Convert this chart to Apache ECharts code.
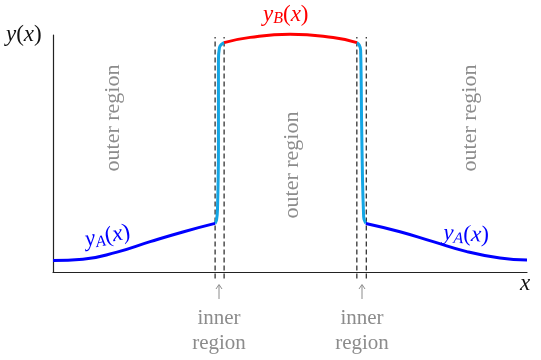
<!DOCTYPE html>
<html>
<head>
<meta charset="utf-8">
<script src="https://cdn.jsdelivr.net/npm/echarts@6/dist/echarts.min.js"></script>
<style>
html, body { margin: 0; padding: 0; background: #fff; }
#chart { width: 541px; height: 360px; }
</style>
</head>
<body>
<div id="chart"></div>
<script>
// outer solution y_A (left and right of the boundary layers)
var outerLeft = [[0, 0.49], [0.63, 0.54], [1.35, 0.84], [2.05, 1.28], [2.74, 1.69], [3.42, 2.05]];
var outerRight = [[6.60, 2.05], [7.32, 1.70], [8.02, 1.28], [8.73, 0.86], [9.43, 0.59], [10.0, 0.51]];
// outer solution y_B (middle)
var outerMiddle = [[3.61, 9.68], [4.16, 9.90], [5.0, 10.03], [5.91, 9.89], [6.41, 9.68]];
// inner (boundary layer) solutions
var innerLeft = [[3.42, 2.05], [3.45, 2.19], [3.47, 2.62], [3.49, 5.15], [3.49, 8.95], [3.51, 9.45], [3.54, 9.58], [3.61, 9.68]];
var innerRight = [[6.41, 9.68], [6.46, 9.58], [6.49, 9.37], [6.51, 6.41], [6.53, 3.88], [6.55, 2.53], [6.56, 2.24], [6.60, 2.05]];
// dashed boundaries of the inner regions
var layerEdges = [3.42, 3.61, 6.41, 6.61];
var dashBottom = -0.27;
var dashTop = 9.92;

var chart = echarts.init(document.getElementById('chart'));

var serif = '"Liberation Serif", "DejaVu Serif", serif';
var grey = '#8c8c8c';

var series = [];
layerEdges.forEach(function (x) {
    series.push({
        type: 'line',
        data: [[x, dashBottom], [x, dashTop]],
        symbol: 'none',
        clip: false,
        lineStyle: { color: '#333', width: 1.3, type: [5, 3] },
        z: 1
    });
});
series.push({
    type: 'line', data: outerLeft, smooth: true, symbol: 'none', clip: false,
    lineStyle: { color: '#0000ff', width: 3 }, z: 3
});
series.push({
    type: 'line', data: outerRight, smooth: true, symbol: 'none', clip: false,
    lineStyle: { color: '#0000ff', width: 3 }, z: 3
});
series.push({
    type: 'line', data: outerMiddle, smooth: true, symbol: 'none', clip: false,
    lineStyle: { color: '#ff0000', width: 3 }, z: 3
});
series.push({
    type: 'line', data: innerLeft, smooth: 0.3, symbol: 'none', clip: false,
    lineStyle: { color: '#14a6e4', width: 3 }, z: 2
});
series.push({
    type: 'line', data: innerRight, smooth: 0.3, symbol: 'none', clip: false,
    lineStyle: { color: '#14a6e4', width: 3 }, z: 2
});

function mathLabel(sub, color) {
    return {
        text: '{i|y}' + (sub ? '{s|' + sub + '}' : '') + '{n|(}{i|x}{n|)}',
        rich: {
            i: { fontFamily: serif, fontStyle: 'italic', fontSize: 23, fill: color },
            s: { fontFamily: serif, fontStyle: 'italic', fontSize: 16, fill: color, padding: [9, 0, 0, 0] },
            n: { fontFamily: serif, fontSize: 23, fill: color }
        }
    };
}

function outerText(x, y) {
    return {
        type: 'text', x: x, y: y, rotation: Math.PI / 2,
        style: {
            text: 'outer region', fontFamily: serif, fontSize: 22, fill: grey,
            align: 'center', verticalAlign: 'middle'
        }
    };
}

function innerText(x) {
    return {
        type: 'group',
        children: [
            { type: 'line', shape: { x1: x, y1: 299, x2: x, y2: 285 }, style: { stroke: grey, lineWidth: 1 } },
            { type: 'polyline', shape: { points: [[x - 3, 289], [x, 284.5], [x + 3, 289]] }, style: { stroke: grey, lineWidth: 1, fill: null } },
            {
                type: 'text', x: x, y: 306,
                style: {
                    text: 'inner\nregion', fontFamily: serif, fontSize: 21, fill: grey,
                    align: 'center', verticalAlign: 'top', lineHeight: 25
                }
            }
        ]
    };
}

chart.setOption({
    animation: false,
    grid: { left: 53, right: 14, top: 35, bottom: 88 },
    xAxis: {
        type: 'value', min: 0, max: 10,
        axisLine: { show: true, lineStyle: { color: '#222', width: 1.2 } },
        axisTick: { show: false }, axisLabel: { show: false }, splitLine: { show: false }
    },
    yAxis: {
        type: 'value', min: 0, max: 10,
        axisLine: { show: true, lineStyle: { color: '#222', width: 1.2 } },
        axisTick: { show: false }, axisLabel: { show: false }, splitLine: { show: false }
    },
    series: series,
    graphic: [
        { type: 'text', x: 6, y: 23, style: mathLabel(null, '#111') },
        { type: 'text', x: 520, y: 272, style: { text: 'x', fontFamily: serif, fontStyle: 'italic', fontSize: 23, fill: '#111' } },
        { type: 'text', x: 263, y: 2, style: mathLabel('B', '#ff0000') },
        { type: 'text', x: 83, y: 228, rotation: 0.18, style: mathLabel('A', '#0000ff') },
        { type: 'text', x: 444, y: 221, rotation: -0.05, style: mathLabel('A', '#0000ff') },
        outerText(113, 118),
        outerText(292, 165),
        outerText(470, 118),
        innerText(219),
        innerText(362)
    ]
});
</script>
</body>
</html>
